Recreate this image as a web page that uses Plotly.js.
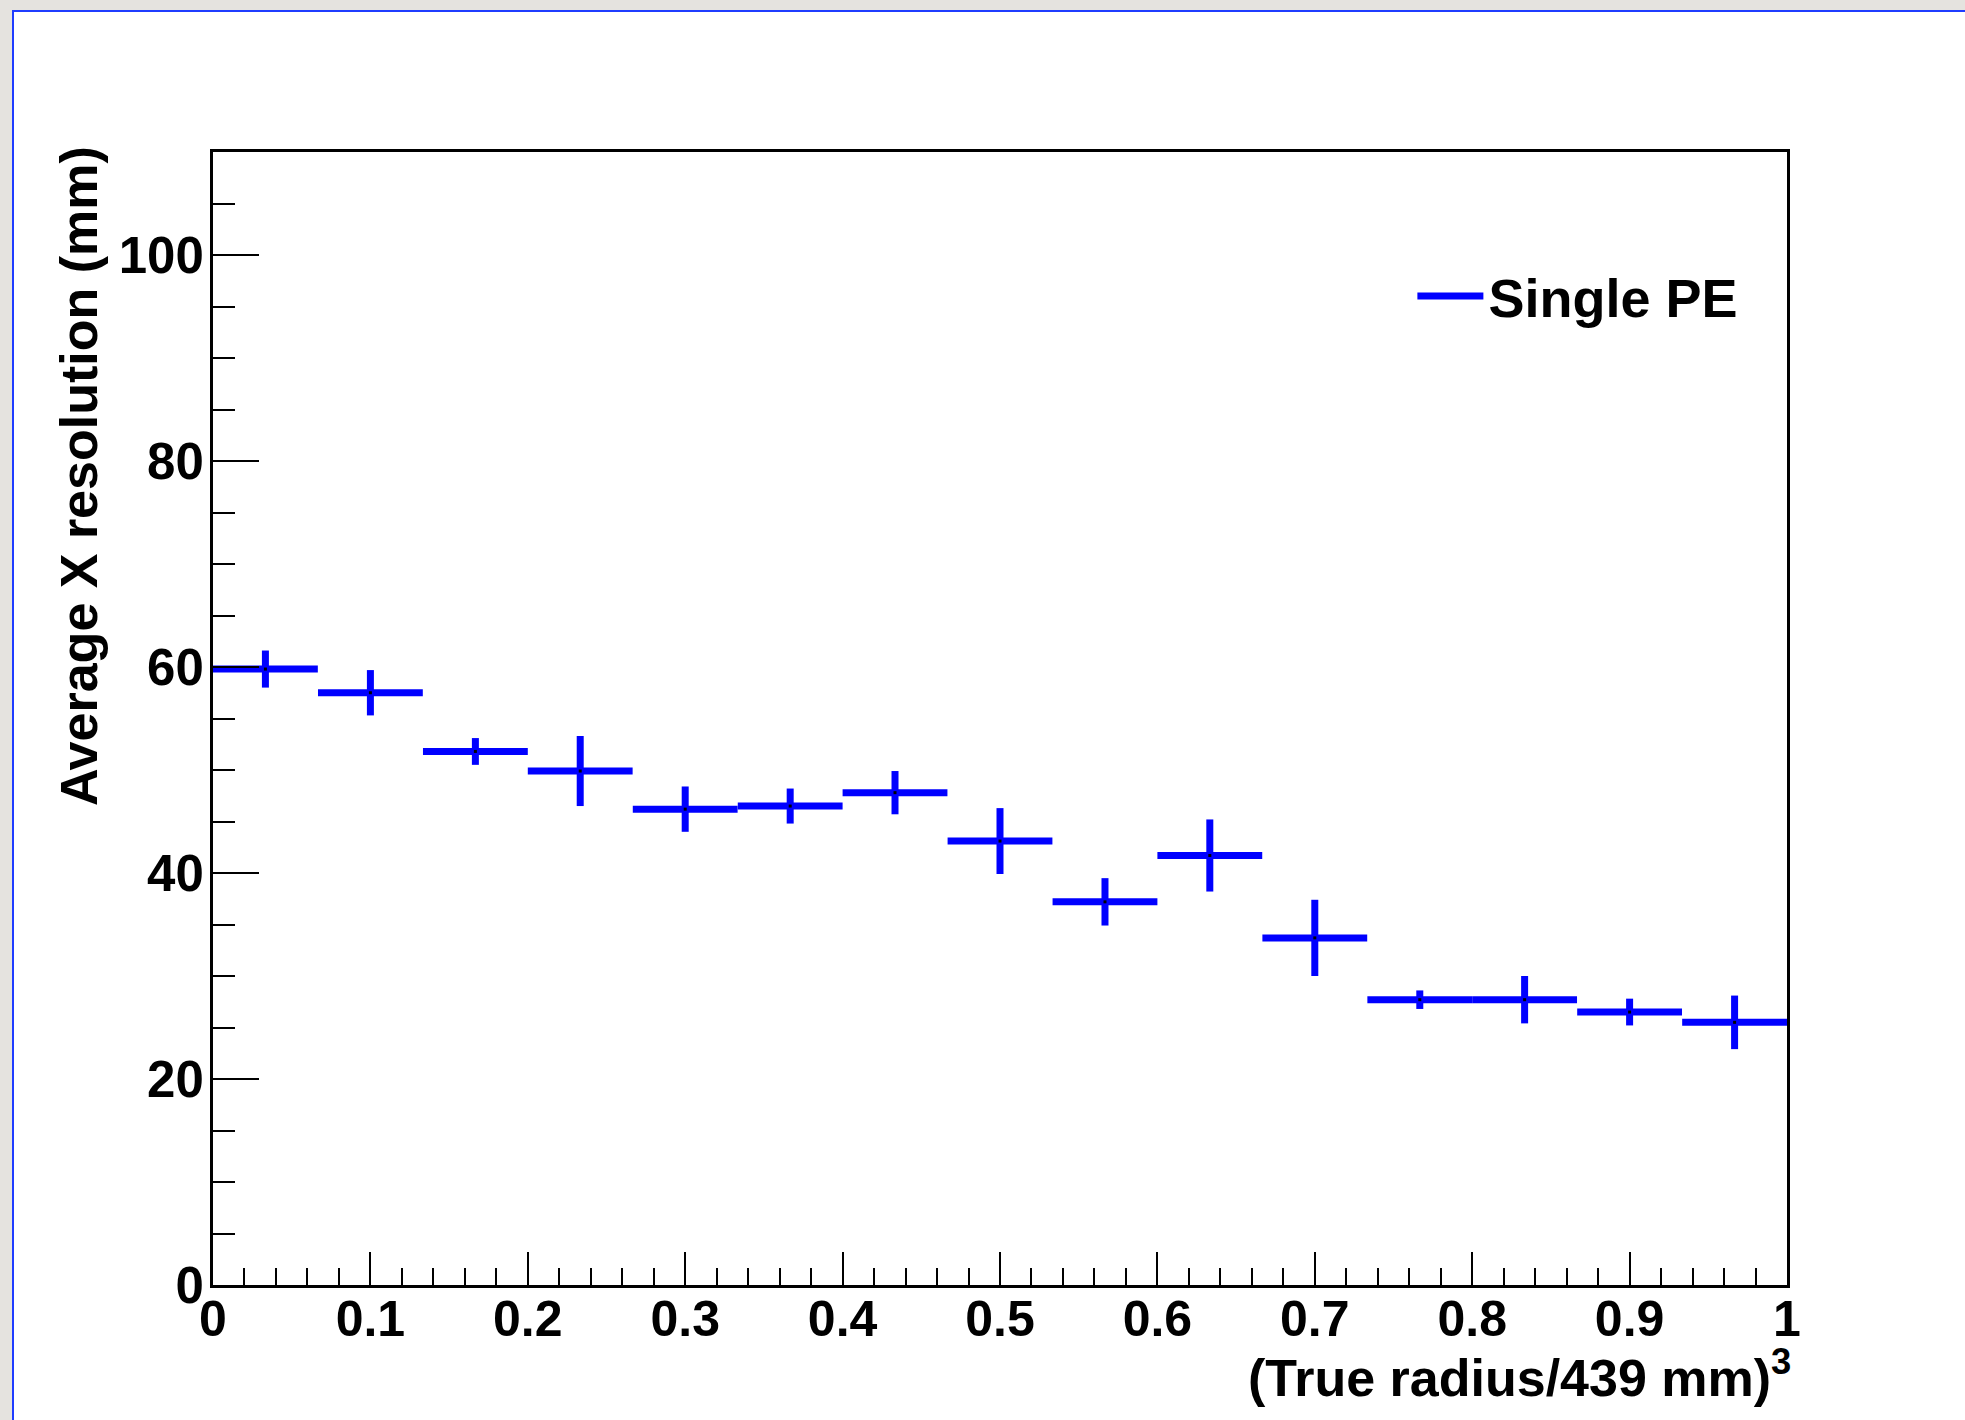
<!DOCTYPE html>
<html>
<head>
<meta charset="utf-8">
<script src="https://cdn.plot.ly/plotly-3.0.1.min.js"></script>
<style>
  html, body { margin: 0; padding: 0; background: #e5e3df; width: 1965px; height: 1420px; overflow: hidden; }
  #frame { position: absolute; left: 12px; top: 10px; border-left: 2px solid #1f3cff; border-top: 2px solid #1f3cff; background: #ffffff; }
  #chart { width: 1951px; height: 1408px; }
</style>
</head>
<body>
<div id="frame"><div id="chart"></div></div>
<script>
// Bin centres of (True radius/439 mm)^3 and their half widths
const binCenters = [0.0333, 0.1, 0.1667, 0.2333, 0.3, 0.3667, 0.4333, 0.5, 0.5667, 0.6333, 0.7, 0.7667, 0.8333, 0.9, 0.9667];
const binHalfWidths = [0.0333, 0.0333, 0.0333, 0.0333, 0.0333, 0.0333, 0.0333, 0.0333, 0.0333, 0.0333, 0.0333, 0.0333, 0.0333, 0.0333, 0.0333];
// Average X resolution (mm) and its uncertainty
const resolution = [59.8, 57.5, 51.8, 49.9, 46.2, 46.5, 47.8, 43.1, 37.2, 41.7, 33.7, 27.7, 27.7, 26.5, 25.5];
const resolutionErr = [1.8, 2.2, 1.3, 3.4, 2.2, 1.7, 2.1, 3.2, 2.3, 3.5, 3.7, 0.9, 2.3, 1.3, 2.6];
const seriesName = "Single PE";
const xTitle = "(True radius/439 mm)<sup>3</sup>";
const yTitle = "Average X resolution (mm)";

const FONT = "Liberation Sans, Helvetica, Arial, sans-serif";
const BLUE = "#0000ff";

const traces = [
  {
    type: "scatter",
    mode: "markers",
    x: binCenters,
    y: resolution,
    showlegend: false,
    marker: { color: "#000000", size: 3, symbol: "square" },
    error_x: { type: "data", array: binHalfWidths, symmetric: true, color: BLUE, thickness: 7, width: 0 },
    error_y: { type: "data", array: resolutionErr, symmetric: true, color: BLUE, thickness: 7, width: 0 },
    hoverinfo: "x+y"
  },
  {
    type: "scatter",
    mode: "lines",
    x: [null],
    y: [null],
    name: seriesName,
    line: { color: BLUE, width: 7 },
    showlegend: true
  }
];

const layout = {
  width: 1951,
  height: 1408,
  margin: { l: 199, r: 178, t: 140, b: 135 },
  paper_bgcolor: "#ffffff",
  plot_bgcolor: "#ffffff",
  font: { family: FONT, size: 50, color: "#000000", weight: 700 },
  xaxis: {
    range: [0, 1],
    dtick: 0.1,
    tick0: 0,
    ticks: "inside",
    ticklen: 33,
    tickwidth: 2,
    tickcolor: "#000000",
    minor: { dtick: 0.02, ticks: "inside", ticklen: 17, tickwidth: 2, tickcolor: "#000000" },
    showline: true,
    linewidth: 3,
    linecolor: "#000000",
    mirror: true,
    showgrid: false,
    zeroline: false,
    tickfont: { family: FONT, size: 50, weight: 700 },
    ticklabelstandoff: -12
  },
  yaxis: {
    range: [0, 110],
    dtick: 20,
    tick0: 0,
    ticks: "inside",
    ticklen: 46,
    tickwidth: 2,
    tickcolor: "#000000",
    minor: { dtick: 5, ticks: "inside", ticklen: 22, tickwidth: 2, tickcolor: "#000000" },
    showline: true,
    linewidth: 3,
    linecolor: "#000000",
    mirror: true,
    showgrid: false,
    zeroline: false,
    tickfont: { family: FONT, size: 51, weight: 700 },
    ticklabelstandoff: -4
  },
  legend: {
    x: 0.762,
    xanchor: "left",
    y: 0.8725,
    yanchor: "middle",
    bgcolor: "rgba(0,0,0,0)",
    font: { family: FONT, size: 54, weight: 700 },
    itemwidth: 66
  },
  annotations: [
    {
      text: xTitle,
      xref: "paper", yref: "paper",
      x: 1, y: 0,
      xanchor: "right", yanchor: "middle",
      xshift: 6,
      yshift: -89,
      showarrow: false,
      font: { family: FONT, size: 52, weight: 700 }
    },
    {
      text: yTitle,
      xref: "paper", yref: "paper",
      x: 0, y: 1,
      xanchor: "center", yanchor: "top",
      xshift: -134,
      yshift: 8,
      textangle: -90,
      showarrow: false,
      font: { family: FONT, size: 52, weight: 700 }
    }
  ]
};

Plotly.newPlot("chart", traces, layout, { displayModeBar: false, staticPlot: true });
</script>
</body>
</html>
